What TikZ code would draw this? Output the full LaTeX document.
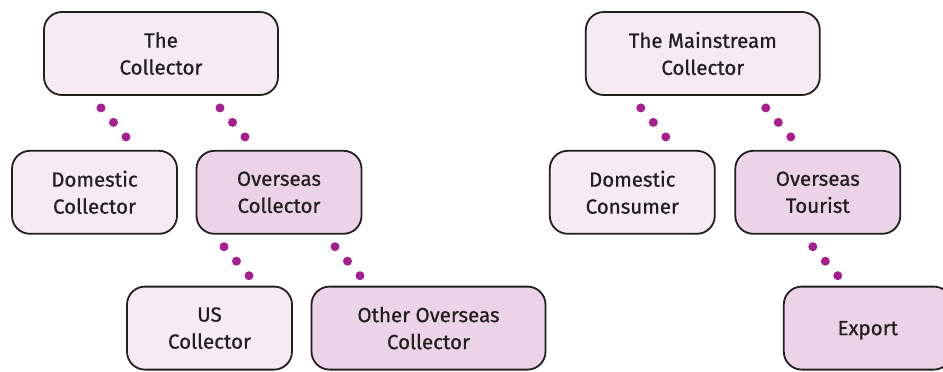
\documentclass[tikz,border=0pt]{standalone}
\usepackage{fontspec}
\setmainfont{Fira Sans}[FakeBold=0.7]
\usetikzlibrary{positioning, calc}
\definecolor{treedot}{HTML}{A71F8F}
\definecolor{treepale}{HTML}{F6EBF4}
\definecolor{treemid}{HTML}{EBD4E7}
\definecolor{treedark}{HTML}{231F20}

\begin{document}
\begin{tikzpicture}[
    box/.style={
      rectangle, rounded corners=18pt, draw=treedark, line width=1.8pt,
      fill=treepale, text=treedark, font=\fontsize{20.5}{27}\selectfont,
      minimum width=165pt, minimum height=83pt, align=center, inner sep=0pt
    },
    widebox/.style={box, minimum width=234pt},
    shaded/.style={fill=treemid},
    dot/.style={circle, fill=treedot, inner sep=0pt, minimum size=9pt},
  ]

  \useasboundingbox (-161pt,53.5pt) rectangle (782pt,-318.5pt);

  % left tree
  \node[widebox] (collector) {The\\Collector};
  \node[box, below=54pt of collector, xshift=-66.5pt] (domestic) {Domestic\\Collector};
  \node[box, shaded, below=54pt of collector, xshift=118pt] (overseas) {Overseas\\Collector};
  \node[box, below=51pt of overseas, xshift=-69.5pt] (us) {US\\Collector};
  \node[widebox, shaded, below=51pt of overseas, xshift=149.5pt] (other) {Other Overseas\\Collector};

  % right tree
  \node[widebox, right=306pt of collector] (mainstream) {The Mainstream\\Collector};
  \node[box, below=54pt of mainstream, xshift=-70.5pt] (consumer) {Domestic\\Consumer};
  \node[box, shaded, below=54pt of mainstream, xshift=115pt] (tourist) {Overseas\\Tourist};
  \node[box, shaded, minimum width=168pt, text depth=0pt, below=51pt of tourist, xshift=50pt] (export) {Export};

  % Dotted links
  \path ($(collector.south)+(-60pt,-12pt)$) -- ($(domestic.north)+(31.5pt,13pt)$)
    node[dot, pos=0] {} node[dot, pos=0.5] {} node[dot, pos=1] {};
  \path ($(collector.south)+(59pt,-12pt)$) -- ($(overseas.north)+(-34pt,13pt)$)
    node[dot, pos=0] {} node[dot, pos=0.5] {} node[dot, pos=1] {};
  \path ($(overseas.south)+(-55pt,-12pt)$) -- ($(us.north)+(39.5pt,10pt)$)
    node[dot, pos=0] {} node[dot, pos=0.5] {} node[dot, pos=1] {};
  \path ($(overseas.south)+(56pt,-12pt)$) -- ($(other.north)+(-68.5pt,10pt)$)
    node[dot, pos=0] {} node[dot, pos=0.5] {} node[dot, pos=1] {};
  \path ($(mainstream.south)+(-62pt,-12pt)$) -- ($(consumer.north)+(33.5pt,13pt)$)
    node[dot, pos=0] {} node[dot, pos=0.5] {} node[dot, pos=1] {};
  \path ($(mainstream.south)+(63pt,-12pt)$) -- ($(tourist.north)+(-27pt,13pt)$)
    node[dot, pos=0] {} node[dot, pos=0.5] {} node[dot, pos=1] {};
  \path ($(tourist.south)+(-5pt,-12pt)$) -- ($(export.north)+(-30pt,10pt)$)
    node[dot, pos=0] {} node[dot, pos=0.5] {} node[dot, pos=1] {};

\end{tikzpicture}
\end{document}
